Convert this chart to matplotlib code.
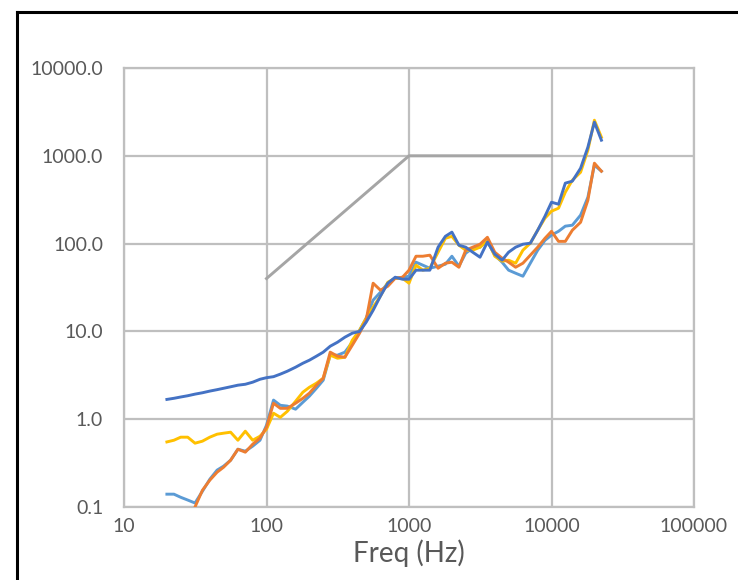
import numpy as np
import matplotlib
matplotlib.use("Agg")
import matplotlib.pyplot as plt
from matplotlib.lines import Line2D
from matplotlib.ticker import FixedLocator, FixedFormatter, NullLocator

# 1/6-octave band centre frequencies (Hz)
freq = [20, 22.4, 25, 28, 31.5, 35.5, 40, 45, 50, 56, 63, 71, 80, 90,
        100, 112, 125, 140, 160, 180, 200, 224, 250, 280, 315, 355, 400, 450,
        500, 560, 630, 710, 800, 900, 1000, 1120, 1250, 1400, 1600, 1800,
        2000, 2240, 2500, 2800, 3150, 3550, 4000, 4500, 5000, 5600, 6300,
        7100, 8000, 9000, 10000, 11200, 12500, 14000, 16000, 18000, 20000,
        22400]

series_dark_blue = [1.68, 1.73, 1.79, 1.85, 1.93, 2.00, 2.09, 2.17, 2.25, 2.34,
                    2.44, 2.50, 2.64, 2.85, 2.97, 3.05, 3.26, 3.52, 3.91, 4.34,
                    4.70, 5.22, 5.80, 6.78, 7.53, 8.59, 9.54, 10.0, 12.7, 17.4,
                    25.2, 35.4, 41.4, 39.3, 39.3, 49.8, 49.8, 49.8, 91.0, 121,
                    135, 95.9, 91.0, 79.8, 70.0, 104, 75.7, 64.7, 79.8, 91.0,
                    98.4, 101, 142, 205, 296, 281, 488, 514, 722, 1253, 2415,
                    1506]

series_light_blue = [0.140, 0.140, 0.129, 0.120, 0.111, 0.151, 0.207, 0.263,
                     0.292, 0.341, 0.455, 0.432, 0.493, 0.576, 0.855, 1.65,
                     1.44, 1.41, 1.30, 1.56, 1.83, 2.25, 2.78, 5.36, 5.36, 5.80,
                     7.53, 10.3, 14.1, 22.7, 27.9, 35.4, 40.3, 41.4, 42.5, 61.4,
                     56.8, 52.4, 55.3, 58.2, 71.8, 55.3, 77.8, 88.7, 91.0, 109,
                     73.8, 61.4, 49.8, 46.0, 42.5, 59.8, 84.1, 109, 125, 138,
                     158, 162, 211, 337, 782, 668]

series_yellow = [0.551, 0.576, 0.624, 0.624, 0.533, 0.562, 0.624, 0.675, 0.693,
                 0.711, 0.576, 0.730, 0.576, 0.640, 0.769, 1.17, 1.05, 1.23,
                 1.60, 2.03, 2.31, 2.57, 2.93, 5.36, 4.95, 5.08, 7.94, 10.3,
                 14.1, 18.9, 25.2, 36.3, 40.3, 40.3, 35.4, 56.8, 49.8, 52.4,
                 79.8, 115, 121, 95.9, 84.1, 84.1, 91.0, 109, 71.8, 63.1, 64.7,
                 59.8, 84.1, 101, 142, 195, 234, 253, 385, 527, 650, 1158,
                 2543, 1629]

nan = float("nan")
series_orange = [nan, nan, nan, nan, 0.100, 0.155, 0.202, 0.249, 0.284, 0.341,
                 0.455, 0.421, 0.519, 0.608, 0.811, 1.52, 1.33, 1.33, 1.52,
                 1.73, 1.98, 2.44, 2.93, 5.80, 5.22, 5.08, 6.96, 9.54, 13.4,
                 35.4, 29.5, 32.7, 40.3, 41.4, 49.8, 71.8, 71.8, 73.8, 52.4,
                 59.8, 61.4, 53.8, 84.1, 91.0, 98.4, 118, 79.8, 68.2, 61.4,
                 53.8, 59.8, 73.8, 91.0, 115, 138, 106, 106, 142, 175, 312,
                 824, 668]

# reference limit curve
limit_freq = [100, 1000, 10000]
limit_val = [40, 1000, 1000]

x_ticks = [10, 100, 1000, 10000, 100000]
x_labels = ["10", "100", "1000", "10000", "100000"]
y_ticks = [0.1, 1, 10, 100, 1000, 10000]
y_labels = ["0.1", "1.0", "10.0", "100.0", "1000.0", "10000.0"]

plt.rcParams["font.family"] = ["Lato", "DejaVu Sans"]

fig = plt.figure(figsize=(7.38, 5.80), dpi=100)
ax = fig.add_axes([124 / 738, 1 - 507 / 580, 570 / 738, 439 / 580])

grid_color = "#BFBFBF"
ax.set_xscale("log")
ax.set_yscale("log")
ax.set_xlim(10, 100000)
ax.set_ylim(0.1, 10000)

ax.xaxis.set_major_locator(FixedLocator(x_ticks))
ax.xaxis.set_major_formatter(FixedFormatter(x_labels))
ax.yaxis.set_major_locator(FixedLocator(y_ticks))
ax.yaxis.set_major_formatter(FixedFormatter(y_labels))
ax.xaxis.set_minor_locator(NullLocator())
ax.yaxis.set_minor_locator(NullLocator())

ax.grid(True, which="major", color=grid_color, linewidth=1.6, zorder=0)
ax.set_axisbelow(True)
for sp in ax.spines.values():
    sp.set_color(grid_color)
    sp.set_linewidth(1.6)

ax.tick_params(axis="both", which="both", length=0, labelsize=14,
               labelcolor="#595959")
ax.tick_params(axis="x", pad=8)
ax.tick_params(axis="y", pad=15)

lw = 2.1
ax.plot(limit_freq, limit_val, color="#A5A5A5", lw=lw, zorder=2)
ax.plot(freq, series_light_blue, color="#5B9BD5", lw=lw, zorder=3)
ax.plot(freq, series_yellow, color="#FFC000", lw=lw, zorder=4)
ax.plot(freq, series_orange, color="#ED7D31", lw=lw, zorder=5)
ax.plot(freq, series_dark_blue, color="#4472C4", lw=lw, zorder=6)

ax.set_xlabel("Freq (Hz)", fontsize=20, color="#595959", labelpad=3)

# outer black frame
fig.add_artist(Line2D([17 / 738, 17 / 738], [0, 1 - 12 / 580],
                      transform=fig.transFigure, color="black", lw=2.2))
fig.add_artist(Line2D([17 / 738, 1], [1 - 12 / 580, 1 - 12 / 580],
                      transform=fig.transFigure, color="black", lw=2.2))

fig.savefig("out.png", dpi=100)
